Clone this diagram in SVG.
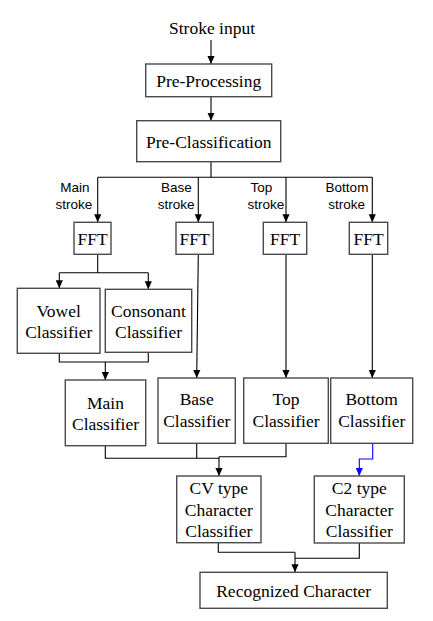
<svg xmlns="http://www.w3.org/2000/svg" width="433" height="621" viewBox="0 0 433 621">
<defs>
<style>
.box{fill:#fff;stroke:#4a4a4a;stroke-width:1.4}
.t{font-family:"Liberation Serif","Times New Roman",serif;font-size:17.5px;fill:#000;text-anchor:middle}
.l{font-family:"Liberation Sans",Arial,sans-serif;font-size:13.5px;fill:#000;text-anchor:middle}
.c{fill:none;stroke:#000;stroke-width:1.1}
.cb{fill:none;stroke:#0000ff;stroke-width:1.1}
</style>
<marker id="a" markerUnits="userSpaceOnUse" markerWidth="8" markerHeight="9" refX="9" refY="4" orient="auto" viewBox="0 0 9 8">
<path d="M0,0 L9,4 L0,8 z" fill="#000"/>
</marker>
<marker id="ab" markerUnits="userSpaceOnUse" markerWidth="8" markerHeight="9" refX="9" refY="4" orient="auto" viewBox="0 0 9 8">
<path d="M0,0 L9,4 L0,8 z" fill="#0000ff"/>
</marker>
</defs>
<rect width="433" height="621" fill="#fff"/>
<g id="connectors">
<path class="c" d="M211,40 V64" marker-end="url(#a)"/>
<path class="c" d="M211,96.7 V120.7" marker-end="url(#a)"/>
<path class="c" d="M211,161.7 V177.3 M97.7,177.3 H372.3"/>
<path class="c" d="M97.7,177.3 V222.3" marker-end="url(#a)"/>
<path class="c" d="M198.3,177.3 V222.3" marker-end="url(#a)"/>
<path class="c" d="M286,177.3 V222.3" marker-end="url(#a)"/>
<path class="c" d="M372.3,177.3 V222.3" marker-end="url(#a)"/>
<path class="c" d="M97.7,254.3 V272.7 M59.3,272.7 H148.3"/>
<path class="c" d="M59.3,272.7 V288.3" marker-end="url(#a)"/>
<path class="c" d="M148.3,272.7 V289.3" marker-end="url(#a)"/>
<path class="c" d="M59.3,353.3 V362 H148.3 V352.3"/>
<path class="c" d="M105.3,362 V380" marker-end="url(#a)"/>
<path class="c" d="M198.3,254.3 L196.7,378" marker-end="url(#a)"/>
<path class="c" d="M286,254.3 V378" marker-end="url(#a)"/>
<path class="c" d="M372.3,254.3 V378" marker-end="url(#a)"/>
<path class="c" d="M105.3,445.7 V458.3 H219 M196.7,443.3 V458.3 M286,443.3 V456.7 H219"/>
<path class="c" d="M219,456.7 V476" marker-end="url(#a)"/>
<path class="cb" d="M372.7,443.3 V459 H359.3 V476" marker-end="url(#ab)"/>
<path class="c" d="M218.3,542.7 V552.3 H295 M359.3,543 V558.3 H295"/>
<path class="c" d="M295,552.3 V572.3" marker-end="url(#a)"/>
</g>
<g id="stroke-input"><text class="t" x="212" y="34">Stroke input</text></g>
<g id="pre-processing"><rect class="box" x="145.7" y="64" width="126" height="32.7"/><text class="t" x="208.7" y="86.5">Pre-Processing</text></g>
<g id="pre-classification"><rect class="box" x="136.7" y="120.7" width="144" height="41"/><text class="t" x="208.7" y="147.5">Pre-Classification</text></g>
<g id="labels">
<text class="l" x="75" y="191.5">Main</text><text class="l" x="74" y="209">stroke</text>
<text class="l" x="176.5" y="191.5">Base</text><text class="l" x="176.2" y="209">stroke</text>
<text class="l" x="261.5" y="191.5">Top</text><text class="l" x="266" y="209">stroke</text>
<text class="l" x="347" y="191.5">Bottom</text><text class="l" x="346.7" y="209">stroke</text>
</g>
<g id="fft1"><rect class="box" x="74" y="222.3" width="37" height="32"/><text class="t" x="92.5" y="244.5">FFT</text></g>
<g id="fft2"><rect class="box" x="176" y="222.3" width="37.3" height="32"/><text class="t" x="194.7" y="244.5">FFT</text></g>
<g id="fft3"><rect class="box" x="263.3" y="222.3" width="43.4" height="32"/><text class="t" x="285" y="244.5">FFT</text></g>
<g id="fft4"><rect class="box" x="349.3" y="222.3" width="38.4" height="32"/><text class="t" x="368.5" y="244.5">FFT</text></g>
<g id="vowel"><rect class="box" x="17.3" y="288.3" width="82.7" height="65"/><text class="t" x="58.7" y="316.5">Vowel</text><text class="t" x="58.7" y="337.5">Classifier</text></g>
<g id="consonant"><rect class="box" x="105.3" y="289.3" width="86.4" height="63"/><text class="t" x="148.5" y="316.5">Consonant</text><text class="t" x="148.5" y="337.5">Classifier</text></g>
<g id="main"><rect class="box" x="65.3" y="380" width="80.4" height="65.7"/><text class="t" x="105.5" y="408.5">Main</text><text class="t" x="105.5" y="430">Classifier</text></g>
<g id="base"><rect class="box" x="158" y="378" width="77.3" height="65.3"/><text class="t" x="196.7" y="405">Base</text><text class="t" x="196.7" y="427">Classifier</text></g>
<g id="top"><rect class="box" x="243.7" y="378" width="84.6" height="65.3"/><text class="t" x="286" y="405">Top</text><text class="t" x="286" y="427">Classifier</text></g>
<g id="bottom"><rect class="box" x="330.7" y="378" width="82" height="65.3"/><text class="t" x="371.7" y="405">Bottom</text><text class="t" x="371.7" y="427">Classifier</text></g>
<g id="cv"><rect class="box" x="176.7" y="476" width="84.3" height="66.7"/><text class="t" x="218.8" y="494">CV type</text><text class="t" x="218.8" y="515.5">Character</text><text class="t" x="218.8" y="536.5">Classifier</text></g>
<g id="c2"><rect class="box" x="314.3" y="476" width="90" height="67"/><text class="t" x="359.3" y="494">C2 type</text><text class="t" x="359.3" y="515.5">Character</text><text class="t" x="359.3" y="536.5">Classifier</text></g>
<g id="recognized"><rect class="box" x="200" y="572.3" width="187.3" height="36"/><text class="t" x="293.7" y="596.5">Recognized Character</text></g>
</svg>
